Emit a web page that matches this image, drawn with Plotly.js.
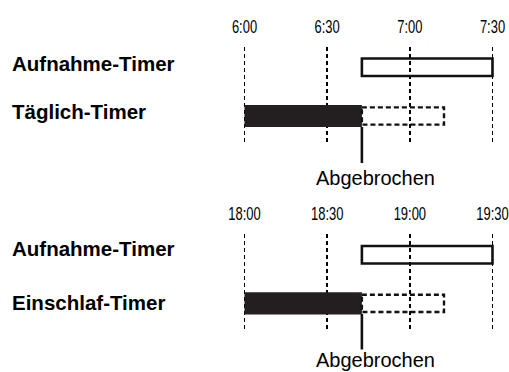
<!DOCTYPE html>
<html>
<head>
<meta charset="utf-8">
<script src="https://cdn.plot.ly/plotly-3.0.1.min.js"></script>
<style>
html,body{margin:0;padding:0;background:#fff;}
#chart{width:509px;height:372px;}
</style>
</head>
<body>
<div id="chart"></div>
<script>
// ---- data (minutes since midnight) ----
const topTickMinutes = [360, 390, 420, 450];
const topTickLabels = ['6:00', '6:30', '7:00', '7:30'];
const bottomTickMinutes = [1080, 1110, 1140, 1170];
const bottomTickLabels = ['18:00', '18:30', '19:00', '19:30'];

const topRowLabels = ['Aufnahme-Timer', 'Täglich-Timer'];
const bottomRowLabels = ['Aufnahme-Timer', 'Einschlaf-Timer'];

// top panel: recording timer, daily timer (start, cancel, planned end)
const topRecStart = 402.6, topRecEnd = 450;
const topTimerStart = 360, topTimerCut = 402.6, topTimerPlannedEnd = 432.4;
// bottom panel: recording timer, sleep timer
const botRecStart = 1122.6, botRecEnd = 1170;
const botTimerStart = 1080, botTimerCut = 1122.6, botTimerPlannedEnd = 1152.4;

const cutLabel = 'Abgebrochen';

// ---- layout helpers ----
const W = 509, H = 372;
const L = 238.5, R = 10.8;
const px2x = p => (p - L) / (W - L - R);
const py2y = p => 1 - p / H;

const boldFont = {family: 'Liberation Sans, Arial, sans-serif', size: 20.5, color: '#000', weight: 'bold'};
const regFont = {family: 'Liberation Sans, Arial, sans-serif', size: 20, color: '#000'};
const tickFont = {family: 'Liberation Sans Narrow, Arial Narrow, Liberation Sans, Arial, sans-serif', size: 18.5, color: '#000'};

function panel(xa, ya, recStart, recEnd, tStart, tCut, tEnd) {
  const rec = {
    type: 'bar', orientation: 'h', xaxis: xa, yaxis: ya,
    y: [1], base: [recStart], x: [recEnd - recStart], width: 0.36,
    marker: {color: 'rgba(0,0,0,0)', line: {color: '#111', width: 2.6}},
    hoverinfo: 'skip', showlegend: false
  };
  const done = {
    type: 'bar', orientation: 'h', xaxis: xa, yaxis: ya,
    y: [0], base: [tStart], x: [tCut - tStart], width: 0.455,
    marker: {color: '#231f20', line: {width: 0}},
    hoverinfo: 'skip', showlegend: false
  };
  const h = 0.178;
  const planned = {
    type: 'scatter', mode: 'lines', xaxis: xa, yaxis: ya,
    x: [tCut, tEnd, tEnd, tCut, tCut],
    y: [h, h, -h, -h, h],
    line: {color: '#111', width: 2.4, dash: '5px,3px'},
    hoverinfo: 'skip', showlegend: false
  };
  return [rec, done, planned];
}

const data = [
  ...panel('x', 'y', topRecStart, topRecEnd, topTimerStart, topTimerCut, topTimerPlannedEnd),
  ...panel('x2', 'y2', botRecStart, botRecEnd, botTimerStart, botTimerCut, botTimerPlannedEnd)
];

function xaxisDef(range, vals, text, anchor) {
  return {
    range: range, side: 'top', anchor: anchor,
    tickmode: 'array', tickvals: vals, ticktext: text,
    ticks: 'outside', ticklen: 6, tickcolor: 'rgba(0,0,0,0)',
    tickfont: tickFont, ticklabeloverflow: 'allow',
    showgrid: true, gridcolor: '#000', gridwidth: 1.5, griddash: '4px,3px',
    showline: false, zeroline: false, fixedrange: true
  };
}
function yaxisDef(domain, anchor) {
  return {
    domain: domain, anchor: anchor, range: [-0.534, 1.417],
    showgrid: false, zeroline: false, showline: false, showticklabels: false,
    fixedrange: true
  };
}

const annotations = [];
function rowLabel(text, py) {
  annotations.push({xref: 'paper', yref: 'paper', x: px2x(9), y: py2y(py),
    xanchor: 'left', yanchor: 'middle', text: text, showarrow: false, font: boldFont});
}
rowLabel(topRowLabels[0], 63.8);
rowLabel(topRowLabels[1], 112);
rowLabel(bottomRowLabels[0], 248);
rowLabel(bottomRowLabels[1], 302);
annotations.push({xref: 'paper', yref: 'paper', x: px2x(375), y: py2y(177.5),
  xanchor: 'center', yanchor: 'middle', text: cutLabel, showarrow: false, font: regFont});
annotations.push({xref: 'paper', yref: 'paper', x: px2x(375), y: py2y(360),
  xanchor: 'center', yanchor: 'middle', text: cutLabel, showarrow: false, font: regFont});

const shapes = [
  {type: 'line', xref: 'x', yref: 'paper', x0: topTimerCut, x1: topTimerCut,
   y0: py2y(127), y1: py2y(163), line: {color: '#111', width: 2.6}},
  {type: 'line', xref: 'x2', yref: 'paper', x0: botTimerCut, x1: botTimerCut,
   y0: py2y(314), y1: py2y(349.5), line: {color: '#111', width: 2.6}}
];

const layout = {
  width: W, height: H,
  margin: {l: L, r: R, t: 0, b: 0, pad: 0},
  paper_bgcolor: '#fff', plot_bgcolor: 'rgba(0,0,0,0)',
  showlegend: false, barmode: 'overlay',
  xaxis: xaxisDef([topTimerStart - 2, topRecEnd + 2], topTickMinutes, topTickLabels, 'y'),
  yaxis: yaxisDef([py2y(142), py2y(47)], 'x'),
  xaxis2: xaxisDef([botTimerStart - 2, botRecEnd + 2], bottomTickMinutes, bottomTickLabels, 'y2'),
  yaxis2: yaxisDef([py2y(329.4), py2y(234.4)], 'x2'),
  annotations: annotations,
  shapes: shapes
};

// condense tick labels horizontally (the reference uses a narrow typeface)
function condenseTicks() {
  document.querySelectorAll('#chart .xtick text, #chart .x2tick text').forEach(t => {
    t.removeAttribute('textLength');
    const len = t.getComputedTextLength();
    t.setAttribute('textLength', (len * 0.7).toFixed(1));
    t.setAttribute('lengthAdjust', 'spacingAndGlyphs');
  });
}

Plotly.newPlot('chart', data, layout, {displayModeBar: false, staticPlot: true})
  .then(condenseTicks);
</script>
</body>
</html>
